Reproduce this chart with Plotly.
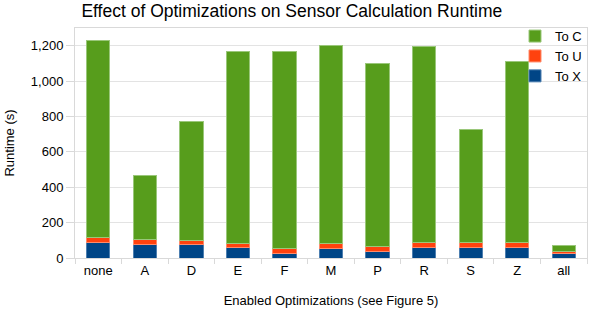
import plotly.graph_objects as go

categories = ["none", "A", "D", "E", "F", "M", "P", "R", "S", "Z", "all"]
to_x = [88, 77, 75, 62, 26, 53, 37, 62, 60, 62, 24]
to_u = [27, 28, 23, 21, 25, 30, 27, 24, 25, 24, 13]
to_c = [1117, 364, 676, 1085, 1119, 1117, 1036, 1108, 640, 1022, 36]
y_ticks = [0, 200, 400, 600, 800, 1000, 1200]
y_tick_labels = ["0", "200", "400", "600", "800", "1,000", "1,200"]

fig = go.Figure()
fig.add_trace(go.Bar(name="To X", x=categories, y=to_x,
                     marker=dict(color="#004586", line=dict(color="#4d7fb0", width=1))))
fig.add_trace(go.Bar(name="To U", x=categories, y=to_u,
                     marker=dict(color="#ff420e", line=dict(color="#ff8a6a", width=1))))
fig.add_trace(go.Bar(name="To C", x=categories, y=to_c,
                     marker=dict(color="#579d1c", line=dict(color="#9ac77a", width=1))))

fig.update_layout(
    width=598, height=309,
    barmode="stack", bargap=0.5,
    paper_bgcolor="white", plot_bgcolor="white",
    margin=dict(l=75, r=11, t=28, b=51),
    font=dict(family="Liberation Sans", size=13, color="#000"),
    title=dict(text="Effect of Optimizations on Sensor Calculation Runtime",
               x=0.488, xanchor="center", y=0.985, yanchor="top",
               font=dict(size=17.5, color="#000")),
    legend=dict(x=1.0, xanchor="right", y=1.03, yanchor="top",
                bgcolor="rgba(0,0,0,0)", font=dict(size=13),
                traceorder="reversed", itemwidth=30, tracegroupgap=0),
    showlegend=True,
)
fig.update_xaxes(
    title=dict(text="Enabled Optimizations (see Figure 5)", font=dict(size=13), standoff=19),
    automargin=False,
    showline=True, linecolor="#d9d9d9", mirror=True,
    ticks="outside", tickson="boundaries", ticklen=5, tickcolor="#d9d9d9",
    showgrid=False,
)
fig.update_yaxes(
    title=dict(text="Runtime (s)", font=dict(size=13), standoff=13),
    automargin=False,
    range=[0, 1300], tickvals=y_ticks, ticktext=y_tick_labels,
    showline=True, linecolor="#d9d9d9", mirror=True,
    ticks="outside", ticklen=8, tickcolor="#d9d9d9",
    showgrid=True, gridcolor="#e3e3e3", zeroline=False,
)

fig.write_html("out.html", config={"displayModeBar": False},
               post_script="document.body.style.margin='0';document.body.style.overflow='hidden';")
